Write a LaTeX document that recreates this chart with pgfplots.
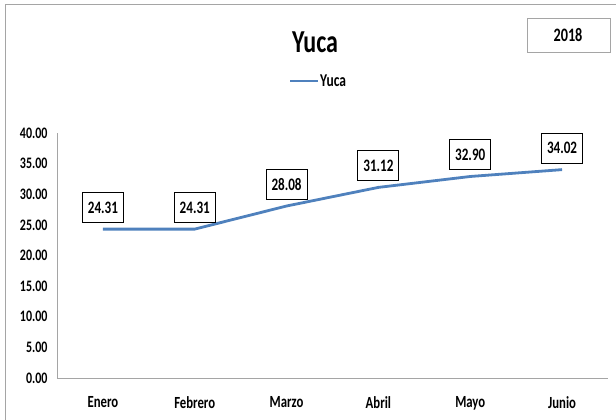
\documentclass[border=0pt]{standalone}
\usepackage{fontspec}
\setmainfont{Carlito}[FakeStretch=0.75]
\usepackage{pgfplots}
\pgfplotsset{compat=1.18}
\definecolor{serieblue}{RGB}{79,129,189}
\definecolor{axgray}{RGB}{165,165,165}
\begin{document}
\begin{tikzpicture}[x=1pt,y=1pt]
\useasboundingbox (0,0) rectangle (616,420);
\draw[axgray,line width=1pt] (5,0) -- (5,415) -- (616,415);
\node[font=\bfseries\fontsize{32}{36}\selectfont] at (315,378) {Yuca};
\draw[serieblue,line width=2.8pt] (290,339) -- (318,339);
\node[font=\bfseries\fontsize{18}{20}\selectfont,anchor=west,inner sep=0pt] at (320,339) {Yuca};
\draw[axgray,line width=0.8pt,fill=white] (527,368) rectangle (610,402);
\node[font=\bfseries\fontsize{19}{21}\selectfont] at (568,385) {2018};
\begin{axis}[
  at={(57pt,42pt)}, anchor=south west,
  scale only axis, width=551pt, height=245pt,
  xmin=-0.5, xmax=5.5, ymin=0, ymax=40,
  axis lines*=left,
  axis line style={axgray,line width=0.8pt,-},
  clip=false,
  xtick={0,1,2,3,4,5},
  xticklabels={Enero,Febrero,Marzo,Abril,Mayo,Junio},
  ytick={0,5,10,15,20,25,30,35,40},
  major tick length=0pt,
  tick style={draw=none},
  /pgf/number format/assume math mode=true,
  yticklabel style={font=\bfseries\fontsize{16}{18}\selectfont,/pgf/number format/.cd,fixed,fixed zerofill,precision=2},
  xticklabel style={font=\bfseries\fontsize{17}{19}\selectfont,yshift=-15pt},
  yticklabel shift=6pt,
]
\addplot[serieblue,line width=2.8pt,no markers,
  nodes near coords={\pgfmathprintnumber[fixed,fixed zerofill,precision=2]{\pgfplotspointmeta}},
  every node near coord/.append style={draw=black,fill=white,text=black,line width=1pt,
    font=\bfseries\fontsize{17.5}{20}\selectfont,anchor=south,yshift=6pt,
    minimum width=41pt,minimum height=30pt,inner sep=3pt},
] coordinates {(0,24.31) (1,24.31) (2,28.08) (3,31.12) (4,32.90) (5,34.02)};
\end{axis}
\end{tikzpicture}
\end{document}
